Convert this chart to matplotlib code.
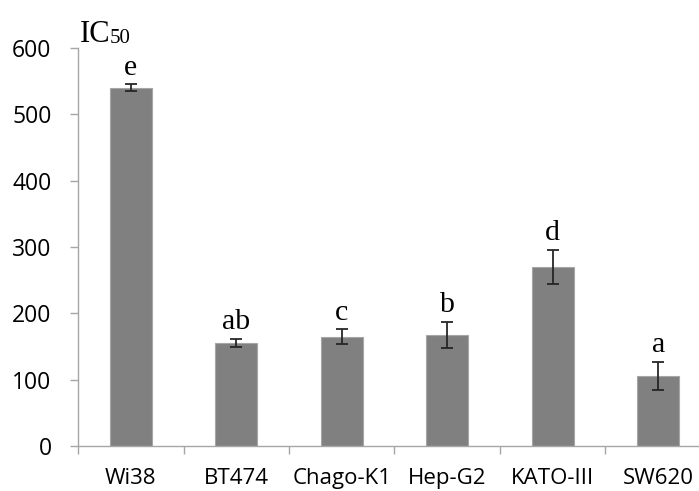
import numpy as np
import matplotlib
matplotlib.use("Agg")
import matplotlib.pyplot as plt

# datos
cell_lines = ["Wi38", "BT474", "Chago-K1", "Hep-G2", "KATO-III", "SW620"]
ic50 = [540, 155, 165, 167, 270, 106]
ic50_err = [5, 6, 11, 20, 26, 21]
letters = ["e", "ab", "c", "b", "d", "a"]

fig = plt.figure(figsize=(6.99, 4.91), dpi=100)
ax = fig.add_axes([78 / 699, 45 / 491, 633 / 699, 398 / 491])

x = np.arange(len(cell_lines))
ax.bar(x, ic50, width=0.4, color="#808080", edgecolor="#a6a6a6", linewidth=0.8, zorder=2)
ax.errorbar(x, ic50, yerr=ic50_err, fmt="none", ecolor="#262626",
            elinewidth=1.3, capsize=4.5, capthick=1.3, zorder=3)

# letras de significancia
for xi, v, e, lab in zip(x, ic50, ic50_err, letters):
    ax.annotate(lab, (xi, v + e), xytext=(0, 7), textcoords="offset points",
                ha="center", va="baseline", fontsize=21.5, family="Liberation Serif")

ax.set_xlim(-0.5, 5.5)
ax.set_ylim(0, 600)
ax.set_yticks(range(0, 601, 100))
ax.set_yticklabels([str(t) for t in range(0, 601, 100)], family="Open Sans", fontsize=16.5)

# marcas del eje x entre categorias
ax.set_xticks(np.arange(-0.5, 5.6, 1))
ax.set_xticklabels([])
ax.set_xticks(x, minor=True)
ax.set_xticklabels(cell_lines, minor=True, family="Open Sans", fontsize=16)
ax.tick_params(axis="x", which="minor", length=0, pad=15.5)
ax.tick_params(axis="x", which="major", length=6, width=1, color="#a6a6a6", direction="out")
ax.tick_params(axis="y", length=6, width=1, color="#a6a6a6", pad=13)

for s in ["top", "right"]:
    ax.spines[s].set_visible(False)
for s in ["left", "bottom"]:
    ax.spines[s].set_color("#a6a6a6")
    ax.spines[s].set_linewidth(1)

# titulo del eje: IC con 50 en subindice
fig.text(80 / 699, 1 - 42 / 491, "IC", fontsize=22, family="Liberation Serif", va="baseline")
fig.text(110 / 699, 1 - 43 / 491, "50", fontsize=15, family="Liberation Serif", va="baseline")

fig.savefig("out.png", dpi=100)
